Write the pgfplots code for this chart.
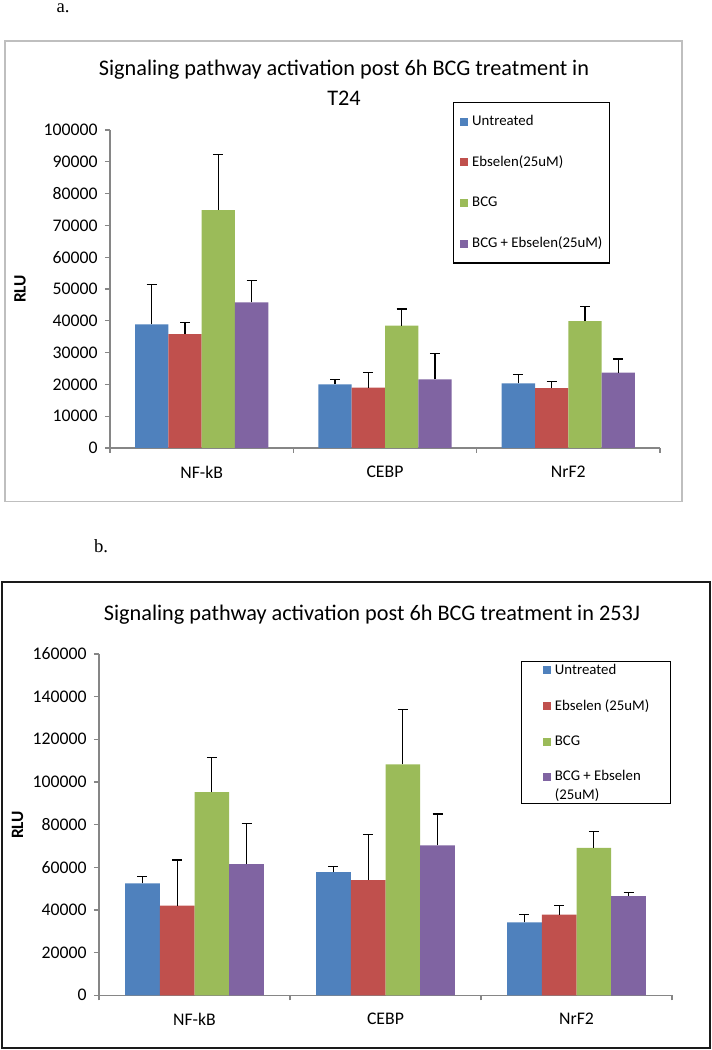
\documentclass[border=0pt]{standalone}
\usepackage{pgfplots}
\pgfplotsset{compat=1.18}
\usepackage{pgfplotstable}
\usepackage{fontspec}
\setmainfont{Carlito}
\newfontfamily\seriffont{Liberation Serif}
\definecolor{cU}{HTML}{4F81BD}
\definecolor{cE}{HTML}{C0504D}
\definecolor{cB}{HTML}{9BBB59}
\definecolor{cP}{HTML}{8064A2}
\definecolor{axgray}{HTML}{868686}
\definecolor{frameA}{HTML}{BFBFBF}
\definecolor{frameB}{HTML}{1A1A1A}

% chart a (T24): x y err(plus)
\pgfplotstableread{
x y e
1 38900 12600
2 20000 1600
3 20300 2900
}\aU
\pgfplotstableread{
x y e
1 35800 3600
2 19000 4800
3 18800 2200
}\aE
\pgfplotstableread{
x y e
1 74800 17600
2 38500 5200
3 39900 4500
}\aB
\pgfplotstableread{
x y e
1 45800 6800
2 21600 8200
3 23700 4300
}\aP
% chart b (253J)
\pgfplotstableread{
x y e
1 52500 3100
2 57700 2800
3 34200 3600
}\bU
\pgfplotstableread{
x y e
1 42000 21400
2 54000 21500
3 37800 4200
}\bE
\pgfplotstableread{
x y e
1 95200 16400
2 108300 25500
3 69100 7600
}\bB
\pgfplotstableread{
x y e
1 61500 19100
2 70300 14700
3 46500 1600
}\bP

\pgfplotsset{
  barchart/.style={
    scale only axis,
    ybar=0pt, bar width=0.1818,
    xmin=0.5, xmax=3.5, ymin=0,
    scaled y ticks=false,
    axis x line*=bottom, axis y line*=left,
    axis line style={-, draw=axgray, line width=0.9pt},
    tick style={draw=axgray, line width=0.9pt},
    tick align=outside,
    major tick length=3.75pt, minor tick length=3.75pt,
    xtick={1,2,3}, xticklabels={NF-kB,CEBP,NrF2},
    minor xtick={0.5,1.5,2.5,3.5},
    x tick style={draw=none},
    minor x tick style={draw=axgray, line width=0.9pt},
    ticklabel style={font=\fontsize{13.3}{16}\selectfont},
    xticklabel style={yshift=-6pt},
    yticklabel style={xshift=-2pt},
    legend image code/.code={\fill[##1] (0pt,-3pt) rectangle (6pt,3pt);},
    legend cell align=left,
  },
  purplelegend/.style={legend image code/.code={\fill[cP] (0pt,3.9pt) rectangle (6pt,9.9pt);}},
  ebar/.style={fill=#1, draw=none,
    error bars/.cd, y dir=plus, y explicit,
    error bar style={draw=black, line width=0.9pt},
    error mark options={draw=black, rotate=90, mark size=3.75pt, line width=0.9pt}},
}

\begin{document}
\begin{tikzpicture}[x=0.75pt,y=0.75pt]
\useasboundingbox (0,0) rectangle (712,1050);
% frames
\draw[frameA, line width=1.1pt] (5,1009) rectangle (682,548.3);
\draw[frameB, line width=1.5pt] (2,468.3) rectangle (710,1.7);
% panel labels
\node[anchor=base, font=\seriffont\fontsize{14}{16}\selectfont, inner sep=0pt] at (63,1037) {a.};
\node[font=\seriffont\fontsize{14}{16}\selectfont, inner sep=0pt] at (101,504) {b.};
% titles
\node[font=\fontsize{16.7}{19}\selectfont] at (344,980) {Signaling pathway activation post 6h BCG treatment in};
\node[font=\fontsize{16.7}{19}\selectfont] at (344,952) {T24};
\node[font=\fontsize{16.7}{19}\selectfont] at (372,435) {Signaling pathway activation post 6h BCG treatment in 253J};
% y labels
\node[rotate=90, font=\bfseries\fontsize{13}{16}\selectfont] at (20,761) {RLU};
\node[rotate=90, font=\bfseries\fontsize{13}{16}\selectfont] at (17.5,225) {RLU};

\begin{axis}[barchart,
  at={(82.5pt,451.5pt)}, anchor=south west,
  width=412.5pt, height=238.5pt,
  ymax=100000,
  ytick={0,10000,20000,30000,40000,50000,60000,70000,80000,90000,100000},
  yticklabels={0,10000,20000,30000,40000,50000,60000,70000,80000,90000,100000},
  legend style={at={(rel axis cs:0.6236,1.089)}, anchor=north west,
    draw=black, line width=0.9pt, inner xsep=5pt, inner ysep=9.3pt,
    row sep=20pt, font=\fontsize{11.1}{13.5}\selectfont,
    nodes={inner sep=0pt, text height=8pt, text depth=2.5pt},
    /tikz/every odd column/.append style={column sep=3pt}},
]
\addplot[ebar=cU] table[x=x,y=y,y error=e]{\aU};
\addplot[ebar=cE] table[x=x,y=y,y error=e]{\aE};
\addplot[ebar=cB] table[x=x,y=y,y error=e]{\aB};
\addplot[ebar=cP] table[x=x,y=y,y error=e]{\aP};
\legend{Untreated,Ebselen(25uM),BCG,BCG + Ebselen(25uM)}
\end{axis}

\begin{axis}[barchart,
  at={(74.25pt,41.03pt)}, anchor=south west,
  width=429.75pt, height=256pt,
  ymax=160000,
  ytick={0,20000,40000,60000,80000,100000,120000,140000,160000},
  yticklabels={0,20000,40000,60000,80000,100000,120000,140000,160000},
  legend style={at={(rel axis cs:0.7365,0.9795)}, anchor=north west,
    draw=black, line width=0.9pt, inner xsep=16pt, inner ysep=2pt,
    row sep=17.4pt, font=\fontsize{11.1}{13.7}\selectfont,
    nodes={inner sep=0pt, align=left},
    /tikz/every odd column/.append style={column sep=3pt}},
]
\addplot[ebar=cU] table[x=x,y=y,y error=e]{\bU};
\addplot[ebar=cE] table[x=x,y=y,y error=e]{\bE};
\addplot[ebar=cB] table[x=x,y=y,y error=e]{\bB};
\addplot[purplelegend, ebar=cP] table[x=x,y=y,y error=e]{\bP};
\legend{Untreated,Ebselen (25uM),BCG,{BCG + Ebselen\\(25uM)}}
\end{axis}
\end{tikzpicture}
\end{document}
